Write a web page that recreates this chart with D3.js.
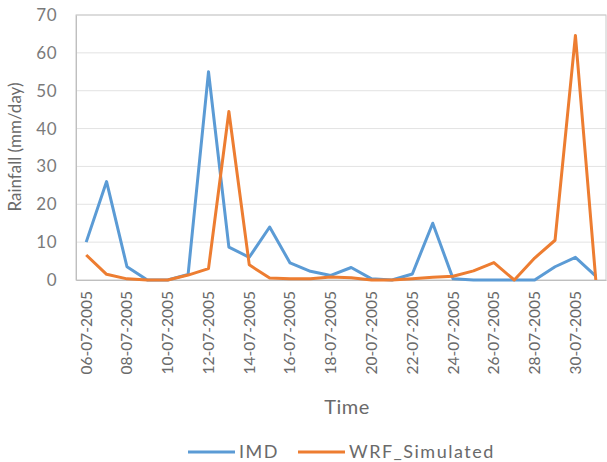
<!DOCTYPE html>
<html><head><meta charset="utf-8">
<script src="https://cdn.jsdelivr.net/npm/d3@7"></script>
<style>body{margin:0;background:#fff;} svg{display:block;}</style>
</head><body>
<svg id="c" width="607" height="462"></svg>
<script>
const dates = ["06-07-2005","07-07-2005","08-07-2005","09-07-2005","10-07-2005","11-07-2005","12-07-2005","13-07-2005","14-07-2005","15-07-2005","16-07-2005","17-07-2005","18-07-2005","19-07-2005","20-07-2005","21-07-2005","22-07-2005","23-07-2005","24-07-2005","25-07-2005","26-07-2005","27-07-2005","28-07-2005","29-07-2005","30-07-2005","31-07-2005"];
const imd = [10, 26, 3.5, 0, 0, 1.5, 55, 8.7, 6, 14, 4.5, 2.3, 1.2, 3.3, 0.3, 0, 1.6, 15, 0.3, 0, 0, 0, 0, 3.5, 6, 1];
const wrf = [6.6, 1.5, 0.3, 0, 0, 1.3, 3, 44.5, 4, 0.5, 0.3, 0.3, 0.8, 0.6, 0, 0, 0.3, 0.7, 1, 2.4, 4.6, 0, 5.8, 10.5, 64.6, 0];
const yTicks = [0, 10, 20, 30, 40, 50, 60, 70];
const seriesNames = ["IMD", "WRF_Simulated"];
const colors = ["#5B9BD5", "#ED7D31"];

const svg = d3.select("#c");
const font = "Lato, 'Open Sans', sans-serif";
const L = 76, R = 606, T = 15, B = 280;
const x = d3.scaleBand().domain(dates).range([L, R]);
const y = d3.scaleLinear().domain([0, 70]).range([B, T]);

// gridlines
svg.append("g").selectAll("line").data(yTicks.filter(d => d > 0)).join("line")
  .attr("x1", L).attr("x2", R).attr("y1", d => y(d)).attr("y2", d => y(d))
  .attr("stroke", "#e3e3e3").attr("stroke-width", 1);
// plot border
svg.append("rect").attr("x", L).attr("y", T).attr("width", R - L).attr("height", B - T)
  .attr("fill", "none").attr("stroke", "#c8c8c8").attr("stroke-width", 1);

// y axis
const ya = svg.append("g").attr("transform", `translate(${L},0)`)
  .call(d3.axisLeft(y).tickValues(yTicks).tickSize(0).tickPadding(19));
ya.select(".domain").attr("stroke", "#bfbfbf");
ya.selectAll("text").attr("font-family", font).attr("font-size", 17).attr("fill", "#7a7a7a")
  .attr("letter-spacing", 0.5);

// x axis
const xa = svg.append("g").attr("transform", `translate(0,${B})`)
  .call(d3.axisBottom(x).tickValues(dates.filter((d, i) => i % 2 === 0)).tickSize(0));
xa.select(".domain").attr("stroke", "#bfbfbf");
xa.selectAll("text").attr("font-family", font).attr("font-size", 15.5).attr("fill", "#6a6a6a")
  .attr("transform", "rotate(-90)").attr("text-anchor", "end")
  .attr("x", -11).attr("y", 0).attr("dy", "0.35em");

// lines
const line = d3.line().x((d, i) => x(dates[i]) + x.bandwidth() / 2).y(d => y(d));
[imd, wrf].forEach((s, k) => {
  svg.append("path").datum(s).attr("d", line).attr("fill", "none")
    .attr("stroke", colors[k]).attr("stroke-width", 3).attr("stroke-linejoin", "round");
});

// axis titles
svg.append("text").attr("transform", "translate(21,147) rotate(-90)")
  .attr("text-anchor", "middle").attr("font-family", font).attr("font-size", 17)
  .attr("fill", "#6a6a6a").text("Rainfall (mm/day)");
svg.append("text").attr("x", 347).attr("y", 414).attr("text-anchor", "middle")
  .attr("font-family", font).attr("font-size", 20).attr("letter-spacing", 0.5)
  .attr("fill", "#6a6a6a").text("Time");

// legend
const lx = [188, 298];
seriesNames.forEach((n, k) => {
  svg.append("line").attr("x1", lx[k]).attr("x2", lx[k] + 47).attr("y1", 452).attr("y2", 452)
    .attr("stroke", colors[k]).attr("stroke-width", 3);
  svg.append("text").attr("x", lx[k] + 51).attr("y", 458).attr("font-family", font)
    .attr("font-size", 18).attr("letter-spacing", 1.5).attr("fill", "#6a6a6a").text(n);
});
</script>
</body></html>
